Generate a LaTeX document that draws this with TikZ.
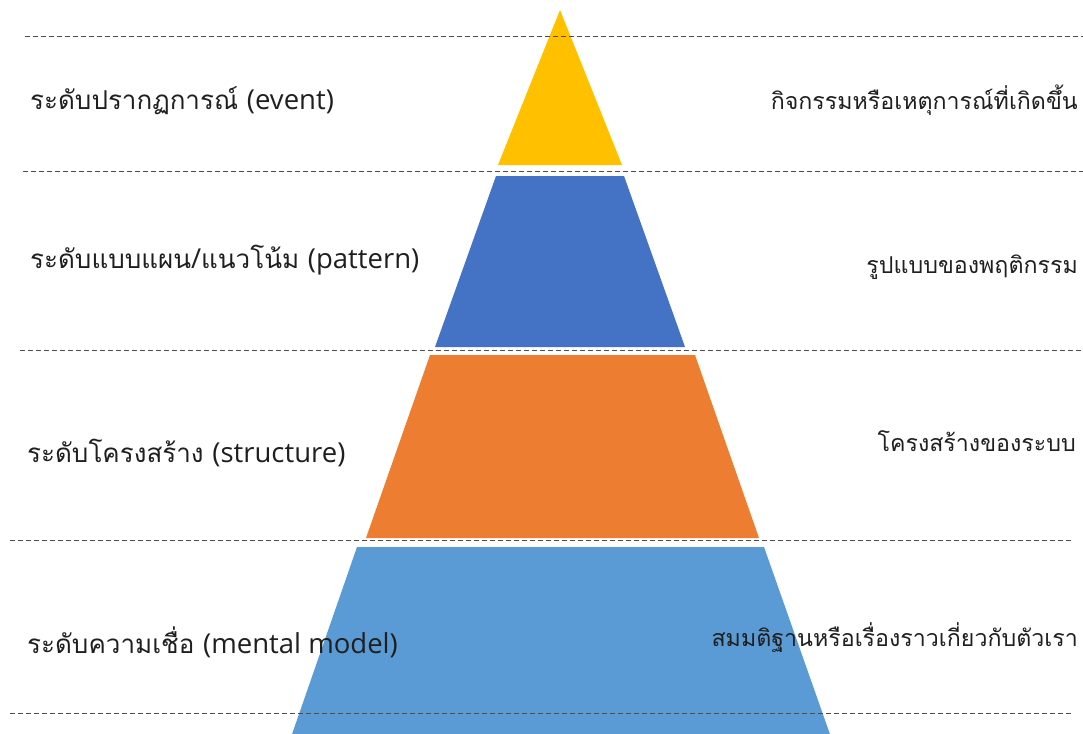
\documentclass[tikz,border=0pt]{standalone}
\usepackage{fontspec}
\newfontfamily\thaifont[Script=Thai]{Loma}
\newfontfamily\latfont{Open Sans}
\newcommand{\lat}[1]{{\latfont\fontsize{27.5}{32}\selectfont #1}}
\begin{document}
\begin{tikzpicture}[x=1pt,y=-1pt,
  lbl/.style={font=\thaifont\fontsize{23.2}{28}\selectfont, inner sep=0pt, text=black!88},
  llbl/.style={font=\thaifont\fontsize{26}{32}\selectfont, inner sep=0pt, text=black!88},
  guide/.style={draw=black!70, line width=0.9pt, dash pattern=on 5pt off 3pt}]
\useasboundingbox (0,0) rectangle (1083,733);
\begin{scope}
\clip (0,0) rectangle (1083,733);
\fill[fill={rgb,255:red,255;green,192;blue,0}] (560,10) -- (622,165) -- (498,165) -- cycle;
\fill[fill={rgb,255:red,68;green,114;blue,196}] (496,176) -- (624,176) -- (685,347) -- (435,347) -- cycle;
\fill[fill={rgb,255:red,237;green,125;blue,49}] (430,355) -- (695,355) -- (759,538) -- (366,538) -- cycle;
\fill[fill={rgb,255:red,91;green,155;blue,213}] (357,547) -- (764,547) -- (832,740) -- (290,740) -- cycle;
\end{scope}
\coordinate (g1a) at (25,36);  \coordinate (g1b) at (1083,36);
\coordinate (g2a) at (23,171); \coordinate (g2b) at (1083,171);
\coordinate (g3a) at (20,350); \coordinate (g3b) at (1083,350);
\coordinate (g4a) at (10,540); \coordinate (g4b) at (1072,540);
\coordinate (g5a) at (10,713); \coordinate (g5b) at (1072,713);
\draw[guide] (g1a) -- (g1b);
\draw[guide] (g2a) -- (g2b);
\draw[guide] (g3a) -- (g3b);
\draw[guide] (g4a) -- (g4b);
\draw[guide] (g5a) -- (g5b);
\node[llbl, anchor=west] (l1) at (30,101) {ระดับปรากฏการณ์ \lat{(event)}};
\node[llbl, anchor=west] (l2) at (30,260) {ระดับแบบแผน\lat{/}แนวโน้ม \lat{(pattern)}};
\node[llbl, anchor=west] (l3) at (27,453) {ระดับโครงสร้าง \lat{(structure)}};
\node[llbl, anchor=west] (l4) at (27,642) {ระดับความเชื่อ \lat{(mental model)}};
\node[lbl, anchor=east] (r1) at (1078,100) {กิจกรรมหรือเหตุการณ์ที่เกิดขึ้น};
\node[lbl, anchor=east] (r2) at (1078,267) {รูปแบบของพฤติกรรม};
\node[lbl, anchor=east] (r3) at (1076,441) {โครงสร้างของระบบ};
\node[lbl, anchor=east] (r4) at (1078,638) {สมมติฐานหรือเรื่องราวเกี่ยวกับตัวเรา};
\end{tikzpicture}
\end{document}
